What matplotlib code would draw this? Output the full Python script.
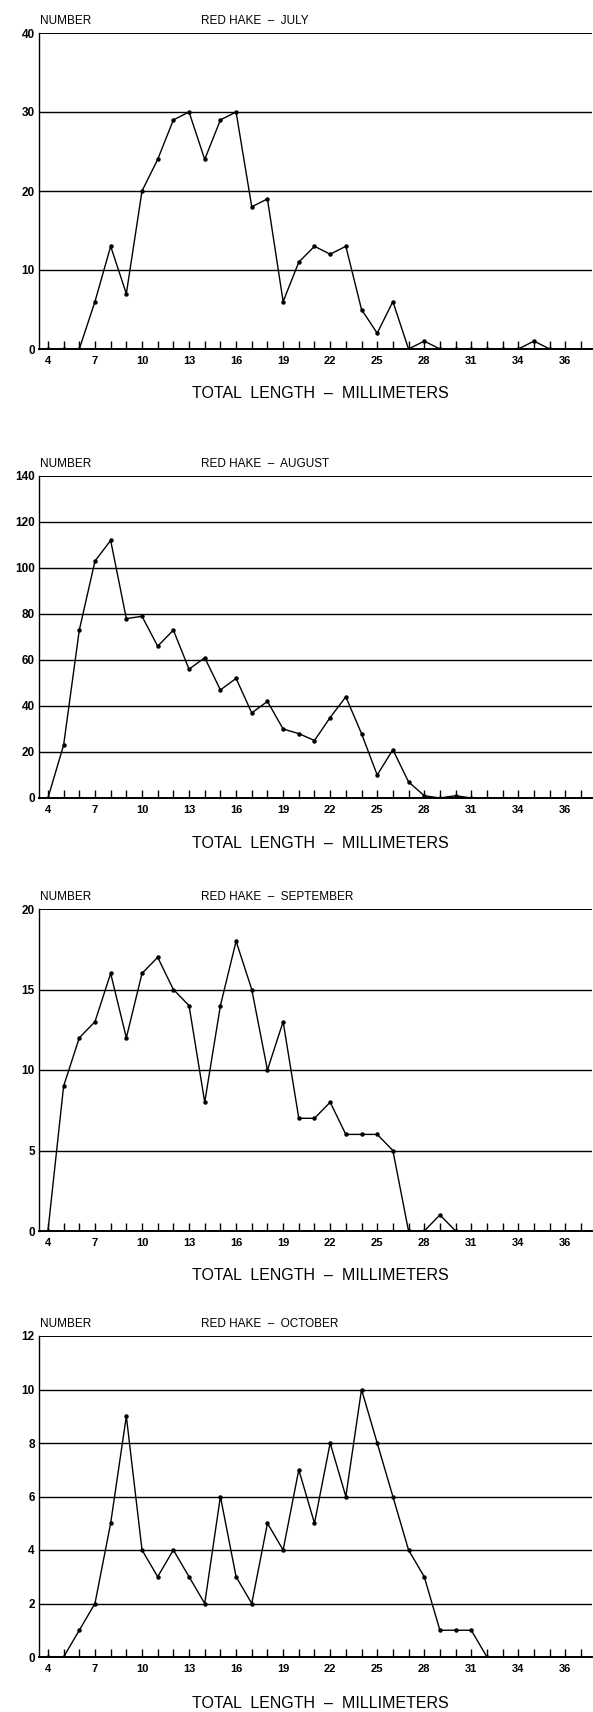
import matplotlib.pyplot as plt

# total length (mm) and counts per month
july_len = list(range(4, 37))
july_num = [0, 0, 0, 6, 13, 7, 20, 24, 29, 30, 24, 29, 30, 18, 19, 6, 11, 13,
            12, 13, 5, 2, 6, 0, 1, 0, 0, 0, 0, 0, 0, 1, 0]

aug_len = list(range(4, 32))
aug_num = [0, 23, 73, 103, 112, 78, 79, 66, 73, 56, 61, 47, 52, 37, 42, 30, 28,
           25, 35, 44, 28, 10, 21, 7, 1, 0, 1, 0]

sep_len = list(range(4, 31))
sep_num = [0, 9, 12, 13, 16, 12, 16, 17, 15, 14, 8, 14, 18, 15, 10, 13, 7, 7,
           8, 6, 6, 6, 5, 0, 0, 1, 0]

oct_len = list(range(4, 33))
oct_num = [0, 0, 1, 2, 5, 9, 4, 3, 4, 3, 2, 6, 3, 2, 5, 4, 7, 5, 8, 6, 10, 8,
           6, 4, 3, 1, 1, 1, 0]

x_ticks = [4, 7, 10, 13, 16, 19, 22, 25, 28, 31, 34, 37]
x_labels = ['4', '7', '10', '13', '16', '19', '22', '25', '28', '31', '34', '36']

W, H = 593, 1712


def panel(top, bottom, xs, ys, ymax, ystep, month, xlabel_y):
    """Draws one length-frequency panel, positions given in pixels"""
    left, right = 39, 592
    ax = fig.add_axes([left / W, 1 - bottom / H, (right - left) / W, (bottom - top) / H])
    ax.plot(xs, ys, color='black', lw=1.0, marker='o', ms=2.2)
    ax.set_xlim(3.43, 38.7)
    ax.set_ylim(0, ymax)
    ax.set_yticks(range(0, ymax + 1, ystep))
    ax.set_xticks(x_ticks)
    ax.set_xticklabels(x_labels)
    ax.set_xticks(range(4, 39), minor=True)
    for y in range(ystep, ymax + 1, ystep):
        ax.axhline(y, color='black', lw=1.0 if y < ymax else 1.4)
    for s in ['top', 'right']:
        ax.spines[s].set_visible(False)
    ax.spines['left'].set_linewidth(1.0)
    ax.spines['bottom'].set_linewidth(1.4)
    ax.tick_params(axis='x', which='both', direction='in', length=6, width=1.0,
                   labelsize=8, pad=5)
    ax.tick_params(axis='y', length=0, labelsize=8.5, pad=3)
    for lab in ax.get_xticklabels() + ax.get_yticklabels():
        lab.set_fontweight('bold')
    fig.text(40 / W, 1 - (top - 12) / H, 'NUMBER', fontsize=8.5, va='center', ha='left')
    fig.text(201 / W, 1 - (top - 12) / H, 'RED HAKE  \u2013  ' + month, fontsize=8.5,
             va='center', ha='left')
    fig.text(320 / W, 1 - xlabel_y / H, 'TOTAL  LENGTH  \u2013  MILLIMETERS', fontsize=11.5,
             va='center', ha='center')


fig = plt.figure(figsize=(W / 100, H / 100), dpi=100)
plt.rcParams['font.family'] = ['Liberation Sans', 'DejaVu Sans']

panel(33, 349, july_len, july_num, 40, 10, 'JULY', 393)
panel(476, 798, aug_len, aug_num, 140, 20, 'AUGUST', 844)
panel(909, 1231, sep_len, sep_num, 20, 5, 'SEPTEMBER', 1275)
panel(1336, 1657, oct_len, oct_num, 12, 2, 'OCTOBER', 1703)

fig.savefig('out.png', dpi=100)
